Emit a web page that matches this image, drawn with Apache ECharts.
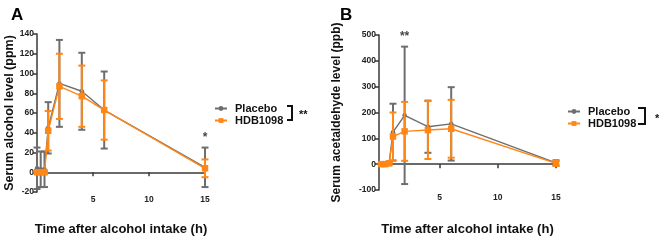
<!DOCTYPE html>
<html>
<head>
<meta charset="utf-8">
<script src="https://cdn.jsdelivr.net/npm/echarts@6/dist/echarts.min.js"></script>
<style>
  html, body { margin: 0; padding: 0; background: #fff; }
  #chart { width: 662px; height: 241px; }
</style>
</head>
<body>
<div id="chart"></div>
<script>
// sampling times (h)
var times = [0, 0.33, 0.67, 1, 2, 4, 6, 15];

// panel A: serum alcohol (ppm), mean and SD
var alcPlacebo = [4, 3, 3, 45, 90, 82, 63, 5];
var alcPlaceboSd = [21, 18, 18, 26, 44, 39, 39, 20];
var alcHdb = [0, 0, 0, 42, 87, 77, 63, 4];
var alcHdbSd = [1, 1, 1, 20, 33, 31, 30, 9];

// panel B: serum acetaldehyde (ppb), mean and SD
var acePlacebo = [0, 0, 5, 124, 189, 145, 156, 5];
var acePlaceboSd = [2, 3, 5, 110, 266, 101, 142, 10];
var aceHdb = [0, 0, 3, 107, 127, 132, 137, 3];
var aceHdbSd = [2, 2, 4, 93, 114, 112, 112, 9];

var xTicks = [5, 10, 15];

// significance marks: point index and text
var sigA = [{ idx: 7, text: '*' }];
var sigB = [{ idx: 4, text: '**' }];

var grey = '#6e6e6e';
var orange = '#ff8717';
var axisCol = '#3a3a3a';
var font = '"Liberation Sans", Arial, sans-serif';

function pts(mean) {
  return times.map(function(t, i) { return [t, mean[i]]; });
}
function errPts(mean, sd) {
  return times.map(function(t, i) { return [t, mean[i], sd[i]]; });
}
function sigPts(sig, m1, s1, m2, s2) {
  return sig.map(function(s) {
    var i = s.idx;
    return { value: [times[i], Math.max(m1[i] + s1[i], m2[i] + s2[i])], text: s.text };
  });
}

function errRender(color) {
  return function(params, api) {
    var x = api.value(0), y = api.value(1), e = api.value(2);
    var top = api.coord([x, y + e]);
    var bot = api.coord([x, y - e]);
    var w = 3.5;
    var st = { stroke: color, lineWidth: 2 };
    return {
      type: 'group',
      children: [
        { type: 'line', shape: { x1: top[0], y1: top[1], x2: bot[0], y2: bot[1] }, style: st },
        { type: 'line', shape: { x1: top[0] - w, y1: top[1], x2: top[0] + w, y2: top[1] }, style: st },
        { type: 'line', shape: { x1: bot[0] - w, y1: bot[1], x2: bot[0] + w, y2: bot[1] }, style: st }
      ]
    };
  };
}

function xAxis(gi, min, gap) {
  return {
    gridIndex: gi, type: 'value', min: min, max: 15,
    name: 'Time after alcohol intake (h)',
    nameLocation: 'middle', nameGap: gap,
    nameTextStyle: { color: '#111', fontWeight: 'bold', fontSize: 13, fontFamily: font },
    axisLine: { onZero: true, lineStyle: { color: axisCol, width: 1.5 } },
    axisTick: { length: 4, lineStyle: { color: axisCol, width: 1.5 }, customValues: xTicks },
    axisLabel: { color: '#222', fontSize: 8.5, fontWeight: 'bold', fontFamily: font, margin: 3, customValues: xTicks },
    splitLine: { show: false }
  };
}

function yAxis(gi, name, min, max, step, gap, size) {
  return {
    gridIndex: gi, type: 'value', min: min, max: max, interval: step,
    name: name, nameLocation: 'middle', nameGap: gap,
    nameTextStyle: { color: '#111', fontWeight: 'bold', fontSize: size, fontFamily: font },
    axisLine: { show: true, onZero: false, lineStyle: { color: axisCol, width: 1.5 } },
    axisTick: { show: true, length: 4, lineStyle: { color: axisCol, width: 1.5 } },
    axisLabel: { color: '#222', fontSize: 8.5, fontWeight: 'bold', fontFamily: font, margin: 3 },
    splitLine: { show: false }
  };
}

function lineSeries(name, gi, mean, color, sym, size, z) {
  return {
    name: name, type: 'line', xAxisIndex: gi, yAxisIndex: gi,
    data: pts(mean), symbol: sym, symbolSize: size, showSymbol: true,
    lineStyle: { color: color, width: 1.4 }, itemStyle: { color: color },
    z: z, animation: false
  };
}

function errSeries(name, gi, mean, sd, color, z) {
  return {
    name: name, type: 'custom', xAxisIndex: gi, yAxisIndex: gi,
    data: errPts(mean, sd), encode: { x: 0, y: 1 },
    renderItem: errRender(color), z: z, silent: true
  };
}

function sigSeries(gi, data) {
  return {
    type: 'scatter', xAxisIndex: gi, yAxisIndex: gi, data: data,
    symbolSize: 0, silent: true, z: 10,
    label: {
      show: true, position: 'top', distance: 4,
      formatter: function(p) { return p.data.text; },
      color: '#111', fontWeight: 'bold', fontSize: 12, fontFamily: font
    }
  };
}

function legend(left, top) {
  return {
    data: ['Placebo', 'HDB1098'], left: left, top: top, orient: 'vertical',
    itemGap: 1, itemWidth: 12, itemHeight: 6,
    textStyle: { color: '#111', fontWeight: 'bold', fontSize: 11, fontFamily: font, padding: [0, 0, 0, 3] }
  };
}

function bracket(x1, x2, y1, y2, star, sx, sy) {
  return [
    { type: 'polyline', shape: { points: [[x1, y1], [x2, y1], [x2, y2], [x1, y2]] },
      style: { stroke: '#111', lineWidth: 2, fill: null } },
    { type: 'text', x: sx, y: sy,
      style: { text: star, fill: '#111', font: 'bold 11px ' + font, textVerticalAlign: 'middle' } }
  ];
}

var chart = echarts.init(document.getElementById('chart'), null, { renderer: 'canvas' });
chart.setOption({
  animation: false,
  title: [
    { text: 'A', left: 6, top: 2, textStyle: { fontSize: 17, fontWeight: 'bold', color: '#000', fontFamily: font } },
    { text: 'B', left: 335, top: 2, textStyle: { fontSize: 17, fontWeight: 'bold', color: '#000', fontFamily: font } }
  ],
  legend: [legend(209, 98), legend(562, 101)],
  grid: [
    { left: 37, top: 34, width: 168, height: 176 },
    { left: 379, top: 35, width: 177, height: 182 }
  ],
  xAxis: [xAxis(0, 0, 31), xAxis(1, -0.2, 33)],
  yAxis: [
    yAxis(0, 'Serum alcohol level (ppm)', -20, 140, 20, 19, 12.5),
    yAxis(1, 'Serum acetaldehyde level (ppb)', -100, 500, 100, 36, 12)
  ],
  series: [
    errSeries('Placebo SD', 0, alcPlacebo, alcPlaceboSd, grey, 2),
    lineSeries('Placebo', 0, alcPlacebo, grey, 'circle', 4.5, 3),
    errSeries('HDB1098 SD', 0, alcHdb, alcHdbSd, orange, 4),
    lineSeries('HDB1098', 0, alcHdb, orange, 'rect', 6.5, 5),
    sigSeries(0, sigPts(sigA, alcPlacebo, alcPlaceboSd, alcHdb, alcHdbSd)),

    errSeries('Placebo SD', 1, acePlacebo, acePlaceboSd, grey, 2),
    lineSeries('Placebo', 1, acePlacebo, grey, 'circle', 4.5, 3),
    errSeries('HDB1098 SD', 1, aceHdb, aceHdbSd, orange, 4),
    lineSeries('HDB1098', 1, aceHdb, orange, 'rect', 6.5, 5),
    sigSeries(1, sigPts(sigB, acePlacebo, acePlaceboSd, aceHdb, aceHdbSd))
  ],
  graphic: bracket(287, 292, 106, 120, '**', 299, 115)
    .concat(bracket(638, 645, 108, 124, '*', 655, 119))
});
window.addEventListener('resize', function() { chart.resize(); });
</script>
</body>
</html>
